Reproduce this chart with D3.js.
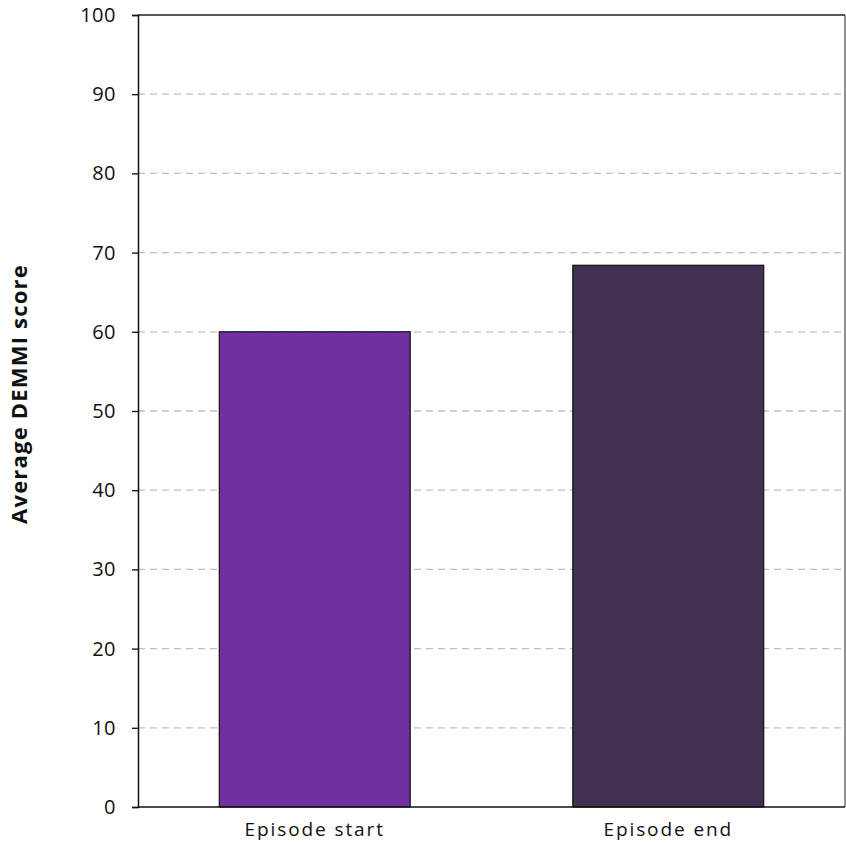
<!DOCTYPE html>
<html><head><meta charset="utf-8">
<script src="https://cdn.jsdelivr.net/npm/d3@7"></script>
<style>body{margin:0;background:#fff}</style>
</head><body>
<svg id="chart" width="846" height="843"></svg>
<script>
const categories = ["Episode start", "Episode end"];
const values = [60, 68.4];
const barColors = ["#7030A0", "#403152"];
const yTicks = [0, 10, 20, 30, 40, 50, 60, 70, 80, 90, 100];
const yTitle = "Average DEMMI score";

const svg = d3.select("#chart");
const m = {left: 138, right: 845, top: 15, bottom: 807};
const x = d3.scaleBand().domain(categories).range([m.left, m.right]).paddingInner(0.46).paddingOuter(0.23);
const y = d3.scaleLinear().domain([0, 100]).range([m.bottom, m.top]);

// gridlines
svg.append("g").selectAll("line").data(yTicks.filter(t => t > 0 && t < 100)).join("line")
  .attr("x1", m.left).attr("x2", m.right)
  .attr("y1", d => y(d)).attr("y2", d => y(d))
  .attr("stroke", "#c0c0c0").attr("stroke-width", 1.3).attr("stroke-dasharray", "7,5");

// bars
svg.append("g").selectAll("rect").data(categories).join("rect")
  .attr("x", d => x(d)).attr("width", x.bandwidth())
  .attr("y", (d, i) => y(values[i])).attr("height", (d, i) => y(0) - y(values[i]))
  .attr("fill", (d, i) => barColors[i]).attr("stroke", "#111").attr("stroke-width", 1.2);

// borders
svg.append("line").attr("x1", m.left).attr("x2", m.right).attr("y1", m.top).attr("y2", m.top).attr("stroke", "#222").attr("stroke-width", 1.5);
svg.append("line").attr("x1", m.right).attr("x2", m.right).attr("y1", m.top).attr("y2", m.bottom).attr("stroke", "#222").attr("stroke-width", 1);

// y axis
const yAxis = svg.append("g").attr("transform", `translate(${m.left},0)`)
  .call(d3.axisLeft(y).tickValues(yTicks).tickSize(6).tickPadding(16));
yAxis.select(".domain").attr("stroke", "#111").attr("stroke-width", 1.5);
yAxis.selectAll(".tick line").attr("stroke", "#111").attr("stroke-width", 1.3);
yAxis.selectAll("text").attr("font-family", "Open Sans").attr("font-size", 20)
  .attr("letter-spacing", "0.5px").attr("fill", "#111");

// x axis
const xAxis = svg.append("g").attr("transform", `translate(0,${m.bottom})`)
  .call(d3.axisBottom(x).tickSize(0).tickPadding(16));
xAxis.select(".domain").attr("d", `M${m.left},0H${m.right}`).attr("stroke", "#111").attr("stroke-width", 1.5);
xAxis.selectAll("text").attr("font-family", "Open Sans").attr("font-size", 19).attr("letter-spacing", "1.9px").attr("fill", "#111");

// y title
svg.append("text").attr("transform", "translate(27,394) rotate(-90)")
  .attr("text-anchor", "middle").attr("font-family", "Open Sans").attr("font-weight", "bold")
  .attr("font-size", 22).attr("letter-spacing", "1.2px").attr("fill", "#111").text(yTitle);
</script>
</body></html>
